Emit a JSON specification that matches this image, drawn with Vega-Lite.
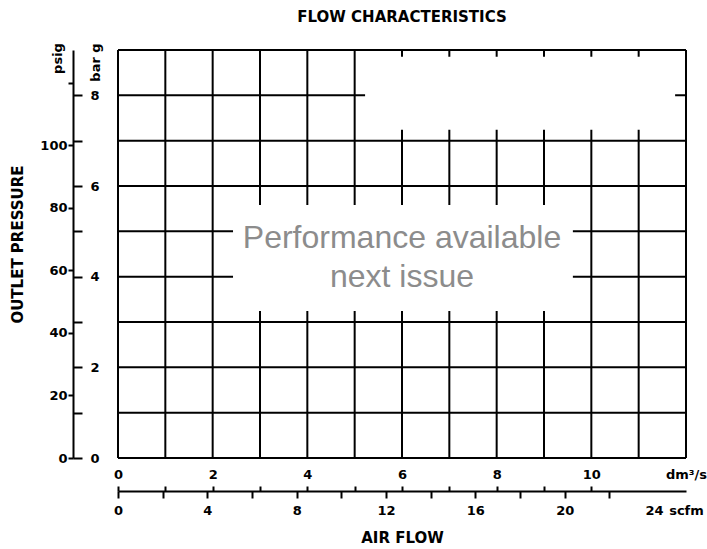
{
  "$schema": "https://vega.github.io/schema/vega-lite/v6.json",
  "width": 568,
  "height": 408,
  "autosize": {"type": "none"},
  "padding": {"left": 118, "top": 50, "right": 21, "bottom": 91},
  "background": "white",
  "title": {"text": "FLOW CHARACTERISTICS", "font": "DejaVu Sans", "fontSize": 15, "fontWeight": "bold", "color": "black", "anchor": "middle", "frame": "group", "offset": 18},
  "config": {
    "view": {"stroke": null},
    "axis": {
      "grid": false,
      "labelFont": "DejaVu Sans", "labelFontSize": 13, "labelFontWeight": "bold", "labelColor": "black",
      "titleFont": "DejaVu Sans", "titleFontSize": 15, "titleFontWeight": "bold", "titleColor": "black",
      "domainColor": "black", "domainWidth": 2, "tickColor": "black", "tickWidth": 2,
      "labelFlush": false, "labelOverlap": false, "labelBound": false
    }
  },
  "datasets": {
    "vgrid": [{"dm": 0}, {"dm": 1}, {"dm": 2}, {"dm": 3}, {"dm": 4}, {"dm": 5}, {"dm": 6}, {"dm": 7}, {"dm": 8}, {"dm": 9}, {"dm": 10}, {"dm": 11}, {"dm": 12}],
    "hgrid": [{"bar": 0}, {"bar": 1}, {"bar": 2}, {"bar": 3}, {"bar": 4}, {"bar": 5}, {"bar": 6}, {"bar": 7}, {"bar": 8}, {"bar": 9}],
    "masks": [
      {"dm": 5.22, "dm_end": 11.77, "bar": 7.24, "bar_end": 8.85},
      {"dm": 2.43, "dm_end": 9.61, "bar": 3.24, "bar_end": 5.58}
    ],
    "note": [{"dm": 6.0, "bar": 4.63, "text": ["Performance available", "next issue"]}],
    "extent": [{"scfm": 0, "psi": 0}, {"scfm": 25.43, "psi": 130.53}]
  },
  "layer": [
    {
      "encoding": {
        "x": {
          "field": "dm", "type": "quantitative",
          "scale": {"domain": [0, 12], "nice": false},
          "axis": {
            "orient": "top", "offset": -441, "domain": false,
            "values": [0, 1, 2, 3, 4, 5, 6, 7, 8, 9, 10, 11, 12],
            "labelExpr": "datum.value == 12 ? 'dm³/s' : (datum.value % 2 == 0 && datum.value <= 10 ? datum.label : '')",
            "tickSize": 5, "labelPadding": 5,
            "tickOpacity": {"condition": {"test": "datum.value > 10.5", "value": 0}, "value": 1},
            "title": null
          }
        },
        "y": {
          "field": "bar", "type": "quantitative",
          "scale": {"domain": [0, 9], "nice": false},
          "axis": {
            "orient": "right", "offset": -613, "domain": false,
            "values": [0, 1, 2, 3, 4, 5, 6, 7, 8],
            "labelExpr": "datum.value % 2 == 0 ? datum.label : ''",
            "tickSize": 9, "labelPadding": 8,
            "title": "bar g", "titleX": 22, "titleY": 12, "titleAngle": -90,
            "titleAlign": "center", "titleBaseline": "middle",
            "titleFontSize": 13
          }
        }
      },
      "layer": [
        {
          "data": {"name": "vgrid"},
          "mark": {"type": "rule", "color": "black", "strokeWidth": 2},
          "encoding": {"y": null}
        },
        {
          "data": {"name": "hgrid"},
          "mark": {"type": "rule", "color": "black", "strokeWidth": 2},
          "encoding": {"x": null}
        },
        {
          "data": {"name": "masks"},
          "mark": {"type": "rect", "fill": "white"},
          "encoding": {
            "x2": {"field": "dm_end"},
            "y2": {"field": "bar_end"}
          }
        },
        {
          "data": {"name": "note"},
          "mark": {"type": "text", "font": "Liberation Sans", "fontSize": 32, "color": "#8c8c8c", "lineHeight": 39, "baseline": "alphabetic", "align": "center"},
          "encoding": {
            "text": {"field": "text", "type": "nominal"}
          }
        }
      ]
    },
    {
      "data": {"name": "extent"},
      "mark": {"type": "point", "opacity": 0},
      "encoding": {
        "x": {
          "field": "scfm", "type": "quantitative",
          "scale": {"domain": [0, 25.43], "nice": false},
          "axis": {
            "orient": "bottom", "offset": 33,
            "values": [0, 2, 4, 6, 8, 10, 12, 14, 16, 18, 20, 22, 24, 25.43],
            "labelExpr": "datum.value > 25 ? 'scfm' : (datum.value % 4 == 0 ? datum.label : '')",
            "tickSize": 7, "labelPadding": 6,
            "tickOpacity": {"condition": {"test": "datum.value > 23", "value": 0}, "value": 1},
            "title": "AIR FLOW", "titleY": 46, "titleBaseline": "middle"
          }
        },
        "y": {
          "field": "psi", "type": "quantitative",
          "scale": {"domain": [0, 130.53], "nice": false},
          "axis": {
            "orient": "left", "offset": 45,
            "values": [0, 20, 40, 60, 80, 100, 120],
            "labelExpr": "datum.value < 110 ? datum.label : ''",
            "tickSize": 5, "labelPadding": 1,
            "title": "psig", "titleX": -16, "titleY": 8, "titleAngle": -90,
            "titleAlign": "center", "titleBaseline": "middle",
            "titleFontSize": 13
          }
        }
      }
    },
    {
      "data": {"name": "extent"},
      "mark": {"type": "point", "opacity": 0},
      "encoding": {
        "y": {
          "field": "psi", "type": "quantitative",
          "scale": {"domain": [0, 130.53], "nice": false},
          "axis": {
            "orient": "left", "offset": 45, "domain": false, "ticks": false, "labels": false,
            "title": "OUTLET PRESSURE", "titleX": -56, "titleY": 194, "titleAngle": -90,
            "titleAlign": "center", "titleBaseline": "middle"
          }
        }
      }
    }
  ],
  "resolve": {"scale": {"x": "independent", "y": "independent"}}
}
